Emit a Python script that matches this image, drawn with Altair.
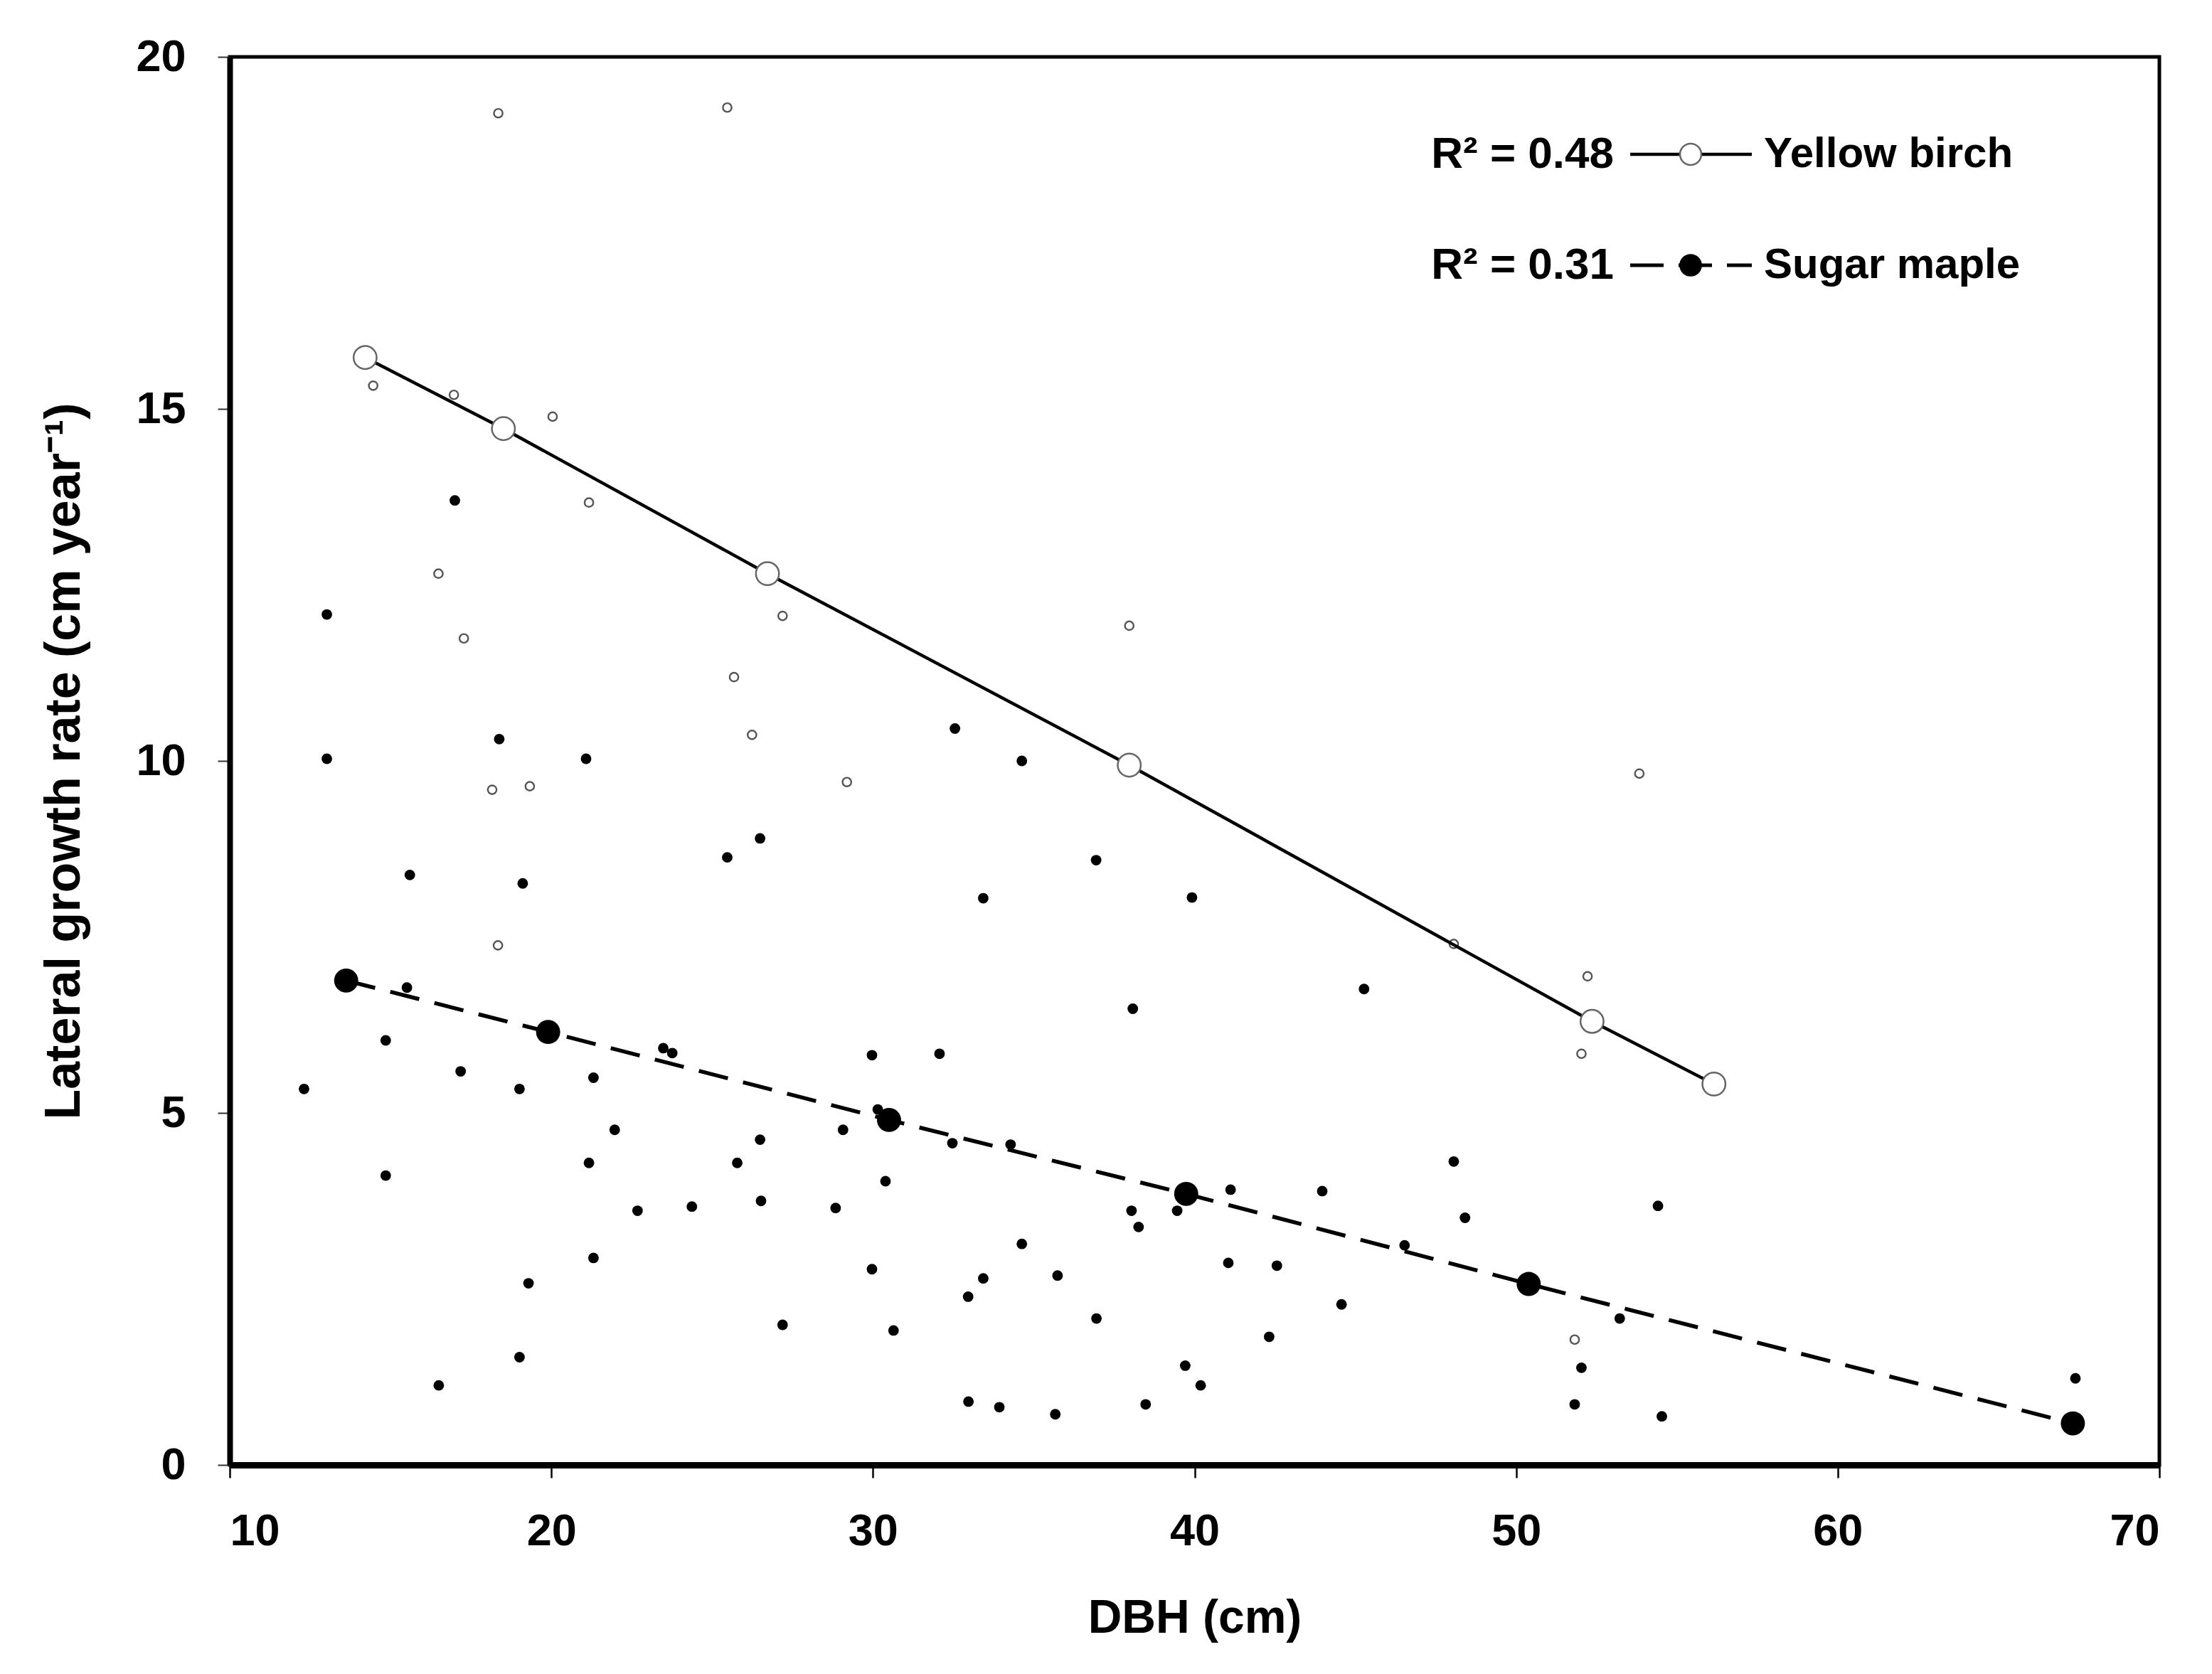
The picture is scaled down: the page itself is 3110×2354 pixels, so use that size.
import altair as alt
import pandas as pd

# ---------------- data ----------------
# Yellow birch observations (open symbols)
yb_dbh = [18.35, 25.47, 14.46, 16.97, 20.04, 21.17, 16.49, 17.28, 27.19, 25.68,
          26.24, 18.16, 19.33, 29.19, 18.34, 37.97, 53.83, 52.22, 52.03, 51.82, 48.06]
yb_rate = [19.20, 19.28, 15.33, 15.20, 14.89, 13.67, 12.66, 11.74, 12.06, 11.19,
           10.37, 9.59, 9.64, 9.70, 7.38, 11.92, 9.82, 6.94, 5.84, 1.78, 7.40]

# Sugar maple observations (filled symbols)
sm_dbh = [17.00, 13.02, 18.38, 13.02, 21.08, 26.49, 25.47, 15.60, 19.11, 15.51,
          14.85, 23.48, 23.76, 29.97, 17.18, 21.31, 12.31, 19.01, 30.15, 21.97,
          29.07, 26.49, 14.85, 21.17, 25.78, 30.39, 22.68, 24.37, 26.52, 28.84,
          21.31, 29.97, 19.29, 27.19, 30.64, 19.01, 16.50,
          32.55, 34.63, 36.94, 33.43, 39.92, 45.27, 38.08, 32.07, 32.47,
          34.28, 39.46, 41.12, 43.97, 48.06, 48.41, 46.53, 38.04, 38.26, 34.63,
          33.43, 35.74, 32.96, 41.05, 42.56, 44.57, 36.95, 42.32, 39.71, 52.03,
          40.19, 32.97, 33.93, 35.67, 38.48, 51.82, 54.41, 53.22, 54.53, 67.39]
sm_rate = [13.70, 12.08, 10.31, 10.03, 10.03, 8.90, 8.63, 8.38, 8.26, 6.78,
           6.03, 5.92, 5.85, 5.82, 5.59, 5.50, 5.34, 5.34, 5.05, 4.76,
           4.76, 4.62, 4.11, 4.29, 4.29, 4.03, 3.61, 3.67, 3.75, 3.65,
           2.94, 2.78, 2.58, 1.99, 1.91, 1.53, 1.13,
           10.46, 10.00, 8.59, 8.05, 8.06, 6.76, 6.48, 5.84, 4.57,
           4.55, 3.61, 3.91, 3.89, 4.31, 3.51, 3.12, 3.61, 3.38, 3.14,
           2.65, 2.69, 2.39, 2.87, 2.83, 2.28, 2.08, 1.82, 1.41, 1.38,
           1.13, 0.90, 0.82, 0.72, 0.86, 0.86, 3.68, 2.08, 0.69, 1.23]

# Fitted regression lines (markers along the fits)
yb_fit_dbh = [14.21, 18.51, 26.72, 37.97, 52.36, 56.15]
yb_fit_rate = [15.73, 14.72, 12.66, 9.94, 6.30, 5.41]
sm_fit_dbh = [13.62, 19.90, 30.50, 39.74, 50.39, 67.31]
sm_fit_rate = [6.88, 6.15, 4.90, 3.85, 2.57, 0.59]

legend_species = ["Yellow birch", "Sugar maple"]
legend_r2 = ["R\u00b2 = 0.48", "R\u00b2 = 0.31"]

x_ticks = [10, 20, 30, 40, 50, 60, 70]
y_ticks = [0, 5, 10, 15, 20]

FONT = "Liberation Sans"

yb_df = pd.DataFrame({"dbh": yb_dbh, "rate": yb_rate})
sm_df = pd.DataFrame({"dbh": sm_dbh, "rate": sm_rate})
yb_fit = pd.DataFrame({"dbh": yb_fit_dbh, "rate": yb_fit_rate})
sm_fit = pd.DataFrame({"dbh": sm_fit_dbh, "rate": sm_fit_rate})
one = pd.DataFrame({"k": [0]})

xs = alt.Scale(domain=[10, 70], nice=False, zero=False)
ys = alt.Scale(domain=[0, 20], nice=False)

X = alt.X("dbh:Q", scale=xs,
          axis=alt.Axis(values=x_ticks, title="DBH (cm)", grid=False,
                        labelFont=FONT, labelFontSize=63, labelFontWeight="bold",
                        labelColor="black", labelPadding=44,
                        tickSize=18, tickWidth=2.5, tickColor="black",
                        domainWidth=9, domainColor="black",
                        titleFont=FONT, titleFontSize=66, titleFontWeight="bold",
                        titleColor="black", titlePadding=58))
Y = alt.Y("rate:Q", scale=ys,
          axis=alt.Axis(values=y_ticks, title="Lateral growth rate (cm year\u207b\u00b9)",
                        grid=False,
                        labelFont=FONT, labelFontSize=63, labelFontWeight="bold",
                        labelColor="black", labelPadding=45,
                        tickSize=17, tickWidth=2, tickColor="#333",
                        domainWidth=8, domainColor="black",
                        titleFont=FONT, titleFontSize=70, titleFontWeight="bold",
                        titleColor="black", titlePadding=64))

yb_pts = alt.Chart(yb_df).mark_point(shape="circle", filled=True, fill="white",
                                     stroke="#555", strokeWidth=2.4, size=150,
                                     opacity=1).encode(x=X, y=Y)
sm_pts = alt.Chart(sm_df).mark_circle(color="black", size=220, opacity=1).encode(x=X, y=Y)

yb_line = alt.Chart(yb_fit).mark_line(color="black", strokeWidth=4.5).encode(x=X, y=Y)
sm_line = alt.Chart(sm_fit).mark_line(color="black", strokeWidth=5.5,
                                      strokeDash=[42, 22]).encode(x=X, y=Y)

yb_big = alt.Chart(yb_fit).mark_point(shape="circle", filled=True, fill="white",
                                      stroke="#666", strokeWidth=2.5, size=1050,
                                      opacity=1).encode(x=X, y=Y)
sm_big = alt.Chart(sm_fit).mark_circle(color="black", size=1150, opacity=1).encode(x=X, y=Y)

# ---------------- legend (drawn inside the plot) ----------------
row_y = [137, 293]
layers = [yb_pts, sm_pts, yb_line, sm_line, yb_big, sm_big]
for i, (sp, r2) in enumerate(zip(legend_species, legend_r2)):
    yv = alt.value(row_y[i])
    layers.append(alt.Chart(one).mark_text(text=r2, align="right", baseline="middle",
                                           font=FONT, fontSize=62, fontWeight="bold",
                                           color="black")
                  .encode(x=alt.value(1946), y=yv))
    layers.append(alt.Chart(one).mark_text(text=sp, align="left", baseline="middle",
                                           font=FONT, fontSize=60, fontWeight="bold",
                                           color="black")
                  .encode(x=alt.value(2157), y=yv))
    if i == 0:
        layers.append(alt.Chart(one).mark_rule(color="black", strokeWidth=4.5)
                      .encode(x=alt.value(1969), x2=alt.value(2140), y=yv))
        layers.append(alt.Chart(one).mark_point(shape="circle", filled=True, fill="white",
                                                stroke="#666", strokeWidth=2.5, size=900,
                                                opacity=1)
                      .encode(x=alt.value(2054), y=yv))
    else:
        layers.append(alt.Chart(one).mark_rule(color="black", strokeWidth=5,
                                               strokeDash=[47, 21])
                      .encode(x=alt.value(1969), x2=alt.value(2140), y=yv))
        layers.append(alt.Chart(one).mark_circle(color="black", size=1000, opacity=1)
                      .encode(x=alt.value(2054), y=yv))

chart = alt.layer(*layers).properties(
    width=2713, height=1980,
    background="white",
    padding={"left": 315, "top": 72, "right": 50, "bottom": 250},
    autosize=alt.AutoSizeParams(type="none"),
).configure_view(stroke="black", strokeWidth=5)

chart.save("out.html", embed_options={"renderer": "svg", "actions": False})
